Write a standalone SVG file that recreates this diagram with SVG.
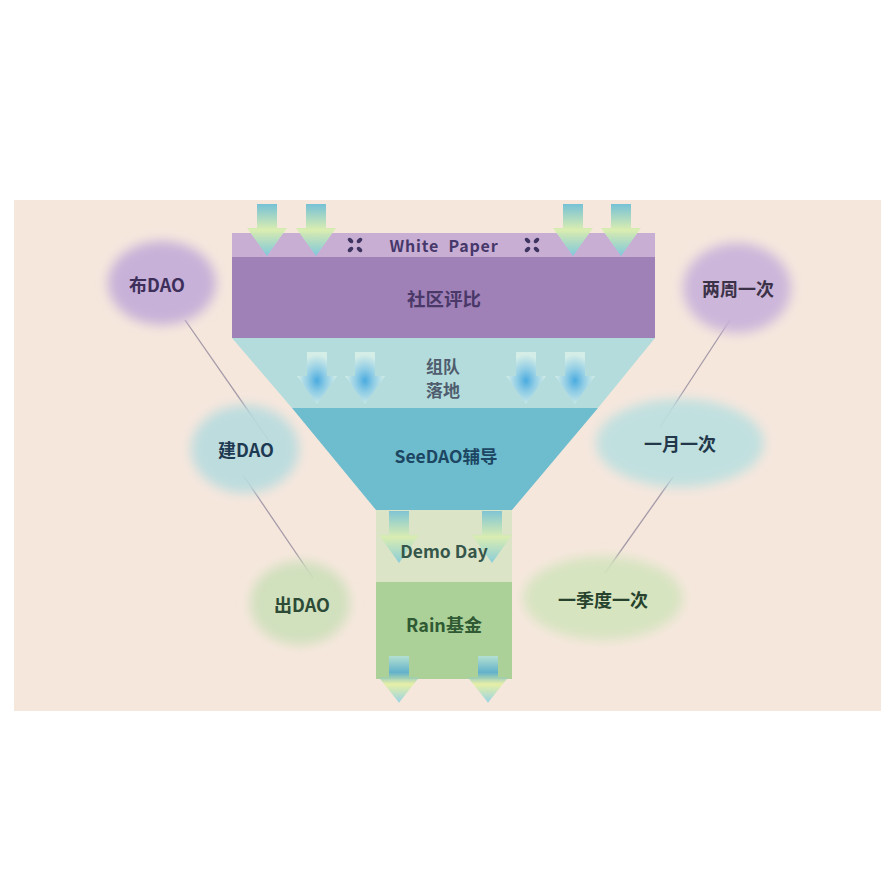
<svg xmlns="http://www.w3.org/2000/svg" width="895" height="895" viewBox="0 0 895 895">
<style>
.t{font-family:"Noto Sans CJK SC","Noto Sans",sans-serif;font-weight:700;text-anchor:middle;dominant-baseline:central}
.b{font-size:18px}
.conn{stroke:#a59aa8;stroke-width:1.3;fill:none}
</style>
<defs>
<linearGradient id="ag" x1="0" y1="0" x2="0" y2="1">
<stop offset="0" stop-color="#6fbfd6"/>
<stop offset="0.5" stop-color="#d9eeae"/>
<stop offset="1" stop-color="#7cc9dc"/>
</linearGradient>
<radialGradient id="mg" cx="0.5" cy="0.55" r="0.5">
<stop offset="0" stop-color="#3fa6e0"/>
<stop offset="0.45" stop-color="#8ccbe6"/>
<stop offset="1" stop-color="#d8efe8"/>
</radialGradient>
<linearGradient id="bg2" x1="0" y1="0" x2="0" y2="1">
<stop offset="0" stop-color="#b5e2d8"/>
<stop offset="0.35" stop-color="#5aaed0"/>
<stop offset="0.6" stop-color="#e4f0a0"/>
<stop offset="1" stop-color="#8fd0e6"/>
</linearGradient>
<path id="arr" d="M-10,0 H10 V24 H20 L0,52 L-20,24 H-10 Z"/>
<filter id="blur" x="-40%" y="-40%" width="180%" height="180%"><feGaussianBlur stdDeviation="6"/></filter>
<g id="xi" fill="#3d3560">
<ellipse cx="-4.5" cy="-4.5" rx="3.2" ry="2" transform="rotate(45 -4.5 -4.5)"/>
<ellipse cx="4.5" cy="-4.5" rx="3.2" ry="2" transform="rotate(-45 4.5 -4.5)"/>
<ellipse cx="-4.5" cy="4.5" rx="3.2" ry="2" transform="rotate(-45 -4.5 4.5)"/>
<ellipse cx="4.5" cy="4.5" rx="3.2" ry="2" transform="rotate(45 4.5 4.5)"/>
</g>
</defs>
<rect width="895" height="895" fill="#ffffff"/>
<rect x="14" y="200" width="867" height="511" fill="#f6e7dd"/>

<g id="connectors">
<line class="conn" x1="185" y1="320" x2="272" y2="445"/>
<line class="conn" x1="243" y1="475" x2="313" y2="578"/>
<line class="conn" x1="730" y1="320" x2="660" y2="427"/>
<line class="conn" x1="673" y1="477" x2="605" y2="573"/>
</g>

<g id="bubble-bu">
<ellipse cx="162" cy="283" rx="54" ry="42" fill="#c3acd8" fill-opacity="0.92" filter="url(#blur)"/>
<text class="t b" x="157" y="284" fill="#3d2e5a">布DAO</text>
</g>
<g id="bubble-jian">
<ellipse cx="245" cy="449" rx="54" ry="44" fill="#b9dbde" fill-opacity="0.92" filter="url(#blur)"/>
<text class="t b" x="246" y="449" fill="#1e3a52">建DAO</text>
</g>
<g id="bubble-chu">
<ellipse cx="300" cy="603" rx="50" ry="42" fill="#cde0bb" fill-opacity="0.92" filter="url(#blur)"/>
<text class="t b" x="302" y="604" fill="#2c4a36">出DAO</text>
</g>
<g id="bubble-2w">
<ellipse cx="737" cy="288" rx="54" ry="45" fill="#c9b2da" fill-opacity="0.92" filter="url(#blur)"/>
<text class="t b" x="738" y="288" fill="#3c3248">两周一次</text>
</g>
<g id="bubble-1m">
<ellipse cx="680" cy="443" rx="84" ry="44" fill="#bcdfe0" fill-opacity="0.92" filter="url(#blur)"/>
<text class="t b" x="680" y="443" fill="#22384a">一月一次</text>
</g>
<g id="bubble-1q">
<ellipse cx="603" cy="598" rx="80" ry="42" fill="#d4e4be" fill-opacity="0.92" filter="url(#blur)"/>
<text class="t b" x="603" y="599" fill="#26422c">一季度一次</text>
</g>

<g id="white-paper">
<rect x="232" y="233" width="423" height="25" fill="#c9aed4"/>
<text class="t" x="444" y="245" font-size="16" letter-spacing="0.8" word-spacing="5" fill="#46386a">White Paper</text>
<use href="#xi" x="355" y="245"/>
<use href="#xi" x="532" y="245"/>
</g>
<g id="community">
<rect x="232" y="257" width="423" height="81" fill="#9f80b7"/>
<text class="t" x="444" y="298" font-size="18.5" fill="#4a3868">社区评比</text>
</g>
<g id="team">
<polygon points="232,338 655,338 598,408 292,408" fill="#b4dcdc"/>
<text class="t" x="443" y="365" font-size="17" fill="#4f5d6e">组队</text>
<text class="t" x="443" y="389" font-size="17" fill="#4f5d6e">落地</text>
</g>
<g id="seedao">
<polygon points="292,408 598,408 512,510 376,510" fill="#6dbdce"/>
<text class="t" x="446" y="455" font-size="17.5" fill="#1d4662">SeeDAO辅导</text>
</g>
<g id="demo-day">
<rect x="376" y="510" width="136" height="72" fill="#dbe4c7"/>
</g>
<g id="rain">
<rect x="376" y="582" width="136" height="97" fill="#abd098"/>
<text class="t" x="444" y="624" font-size="18" fill="#2f5a34">Rain基金</text>
</g>

<g id="arrows">
<use href="#arr" x="267" y="204" fill="url(#ag)" opacity="0.95"/>
<use href="#arr" x="316" y="204" fill="url(#ag)" opacity="0.95"/>
<use href="#arr" x="573" y="204" fill="url(#ag)" opacity="0.95"/>
<use href="#arr" x="621" y="204" fill="url(#ag)" opacity="0.95"/>
<use href="#arr" x="317" y="352" fill="url(#mg)" opacity="0.9"/>
<use href="#arr" x="365" y="352" fill="url(#mg)" opacity="0.9"/>
<use href="#arr" x="526" y="352" fill="url(#mg)" opacity="0.9"/>
<use href="#arr" x="575" y="352" fill="url(#mg)" opacity="0.9"/>
<use href="#arr" x="399" y="511" fill="url(#ag)" opacity="0.85"/>
<use href="#arr" x="492" y="511" fill="url(#ag)" opacity="0.85"/>
<use href="#arr" x="399" y="656" fill="url(#bg2)" opacity="0.9" transform="translate(399 656) scale(1 0.9) translate(-399 -656)"/>
<use href="#arr" x="488" y="656" fill="url(#bg2)" opacity="0.9" transform="translate(488 656) scale(1 0.9) translate(-488 -656)"/>
</g>
<text class="t" x="444" y="550" font-size="17.5" fill="#35564a">Demo Day</text>
</svg>
